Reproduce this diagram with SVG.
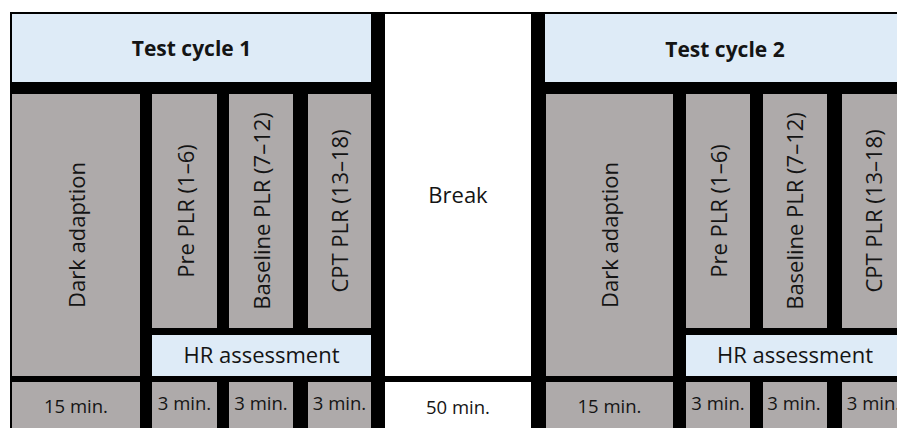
<svg xmlns="http://www.w3.org/2000/svg" width="897" height="428" viewBox="0 0 897 428">
<style>
.hdr{fill:#DEEBF7}
.box{fill:#AEAAAA}
.wht{fill:#FFFFFF}
text{font-family:"Open Sans","DejaVu Sans",sans-serif;fill:#141414}
.t{font-size:21px;font-weight:bold;text-anchor:middle}
.l{font-size:22px;text-anchor:middle}
.m{font-size:18.5px;text-anchor:middle}
</style>
<rect x="0" y="0" width="897" height="428" fill="#FFFFFF"/>
<rect x="10" y="12" width="887" height="416" fill="#000000"/>
<g id="connectors"/>
<g id="cycle1-header"><rect class="hdr" x="12" y="14" width="359" height="68"/><text class="t" x="191.5" y="56">Test cycle 1</text></g>
<g id="cycle1-dark"><rect class="box" x="12" y="94" width="128" height="282"/><text class="l" transform="translate(85,235) rotate(-90)">Dark adaption</text></g>
<g id="cycle1-pre"><rect class="box" x="152" y="94" width="65" height="234"/><text class="l" transform="translate(194,211) rotate(-90)">Pre PLR (1–6)</text></g>
<g id="cycle1-base"><rect class="box" x="229" y="94" width="64" height="234"/><text class="l" transform="translate(270,211) rotate(-90)">Baseline PLR (7–12)</text></g>
<g id="cycle1-cpt"><rect class="box" x="308" y="94" width="63" height="234"/><text class="l" transform="translate(348,211) rotate(-90)">CPT PLR (13–18)</text></g>
<g id="cycle1-hr"><rect class="hdr" x="152" y="335" width="219" height="41"/><text class="l" x="261.5" y="363">HR assessment</text></g>
<g id="cycle1-t-dark"><rect class="box" x="12" y="382" width="128" height="46"/><text class="m" x="76" y="413">15 min.</text></g>
<g id="cycle1-t-pre"><rect class="box" x="152" y="382" width="65" height="46"/><text class="m" x="184.5" y="410">3 min.</text></g>
<g id="cycle1-t-base"><rect class="box" x="229" y="382" width="64" height="46"/><text class="m" x="261" y="410">3 min.</text></g>
<g id="cycle1-t-cpt"><rect class="box" x="308" y="382" width="63" height="46"/><text class="m" x="339.5" y="410">3 min.</text></g>
<g id="break"><rect class="wht" x="385" y="14" width="146" height="362"/><text class="l" x="458" y="203">Break</text></g>
<g id="break-time"><rect class="wht" x="385" y="382" width="146" height="46"/><text class="m" x="458" y="414">50 min.</text></g>
<g id="cycle2-header"><rect class="hdr" x="545" y="14" width="360" height="68"/><text class="t" x="725" y="57">Test cycle 2</text></g>
<g id="cycle2-dark"><rect class="box" x="546" y="94" width="127" height="282"/><text class="l" transform="translate(618,235) rotate(-90)">Dark adaption</text></g>
<g id="cycle2-pre"><rect class="box" x="686" y="94" width="64" height="234"/><text class="l" transform="translate(727,211) rotate(-90)">Pre PLR (1–6)</text></g>
<g id="cycle2-base"><rect class="box" x="763" y="94" width="64" height="234"/><text class="l" transform="translate(803,211) rotate(-90)">Baseline PLR (7–12)</text></g>
<g id="cycle2-cpt"><rect class="box" x="842" y="94" width="63" height="234"/><text class="l" transform="translate(882,211) rotate(-90)">CPT PLR (13–18)</text></g>
<g id="cycle2-hr"><rect class="hdr" x="686" y="335" width="219" height="41"/><text class="l" x="795" y="363">HR assessment</text></g>
<g id="cycle2-t-dark"><rect class="box" x="546" y="382" width="127" height="46"/><text class="m" x="609.5" y="413">15 min.</text></g>
<g id="cycle2-t-pre"><rect class="box" x="686" y="382" width="64" height="46"/><text class="m" x="718" y="410">3 min.</text></g>
<g id="cycle2-t-base"><rect class="box" x="763" y="382" width="64" height="46"/><text class="m" x="794" y="410">3 min.</text></g>
<g id="cycle2-t-cpt"><rect class="box" x="842" y="382" width="63" height="46"/><text class="m" x="873.5" y="410">3 min.</text></g>
</svg>
